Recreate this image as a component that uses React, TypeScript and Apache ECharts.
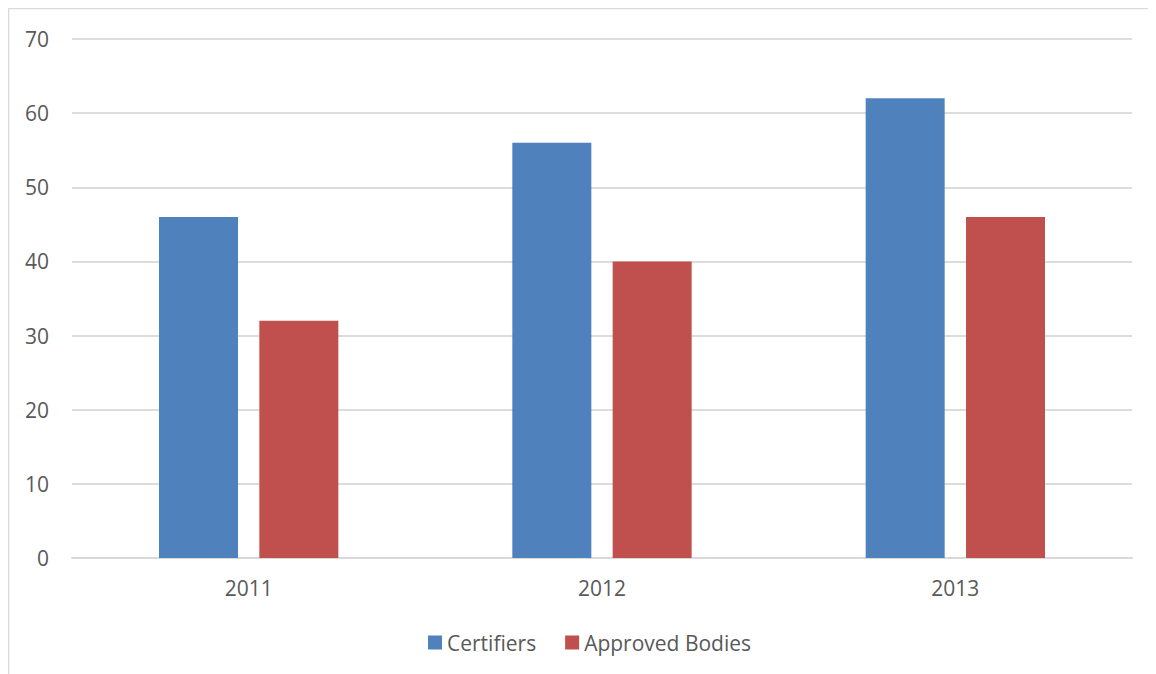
import React, { useEffect, useRef } from "react";
import * as echarts from "echarts";

const categories = ["2011", "2012", "2013"];
const certifiers = [46, 56, 62];
const approvedBodies = [32, 40, 46];
const seriesNames = ["Certifiers", "Approved Bodies"];

export default function App() {
  const ref = useRef<HTMLDivElement>(null);
  useEffect(() => {
    if (!ref.current) return;
    const chart = echarts.init(ref.current, null, { renderer: "svg" });
    const font = "'Open Sans', 'Noto Sans', sans-serif";
    chart.setOption({
      animation: false,
      textStyle: { fontFamily: font },
      graphic: [
        { type: "line", shape: { x1: 0.5, y1: 0, x2: 0.5, y2: 666 }, style: { stroke: "#d9d9d9", lineWidth: 1.5 } },
        { type: "line", shape: { x1: 0, y1: 0.5, x2: 1148, y2: 0.5 }, style: { stroke: "#d9d9d9", lineWidth: 1.5 } },
      ],
      grid: { left: 64, right: 24, top: 31, bottom: 116, containLabel: false },
      legend: {
        left: 420,
        top: 624,
        padding: 0,
        itemWidth: 14,
        itemHeight: 14,
        itemGap: 29,
        icon: "rect",
        textStyle: { fontSize: 21, color: "#595959", fontFamily: font },
        data: seriesNames,
      },
      xAxis: {
        type: "category",
        data: categories,
        axisLine: { lineStyle: { color: "#d9d9d9", width: 2 } },
        axisTick: { show: false },
        axisLabel: { fontSize: 21, color: "#595959", margin: 19, fontFamily: font },
      },
      yAxis: {
        type: "value",
        min: 0,
        max: 70,
        interval: 10,
        axisLine: { show: false },
        axisTick: { show: false },
        splitLine: { lineStyle: { color: "#dcdcdc", width: 2 } },
        axisLabel: { fontSize: 21, color: "#595959", margin: 23, fontFamily: font },
      },
      series: [
        {
          name: seriesNames[0],
          type: "bar",
          data: certifiers,
          barWidth: 79,
          barGap: "27%",
          itemStyle: { color: "#4f81bd" },
        },
        {
          name: seriesNames[1],
          type: "bar",
          data: approvedBodies,
          barWidth: 79,
          barGap: "27%",
          itemStyle: { color: "#c0504d" },
        },
      ],
    });
    return () => chart.dispose();
  }, []);
  return <div ref={ref} style={{ width: 1148, height: 666 }} />;
}
